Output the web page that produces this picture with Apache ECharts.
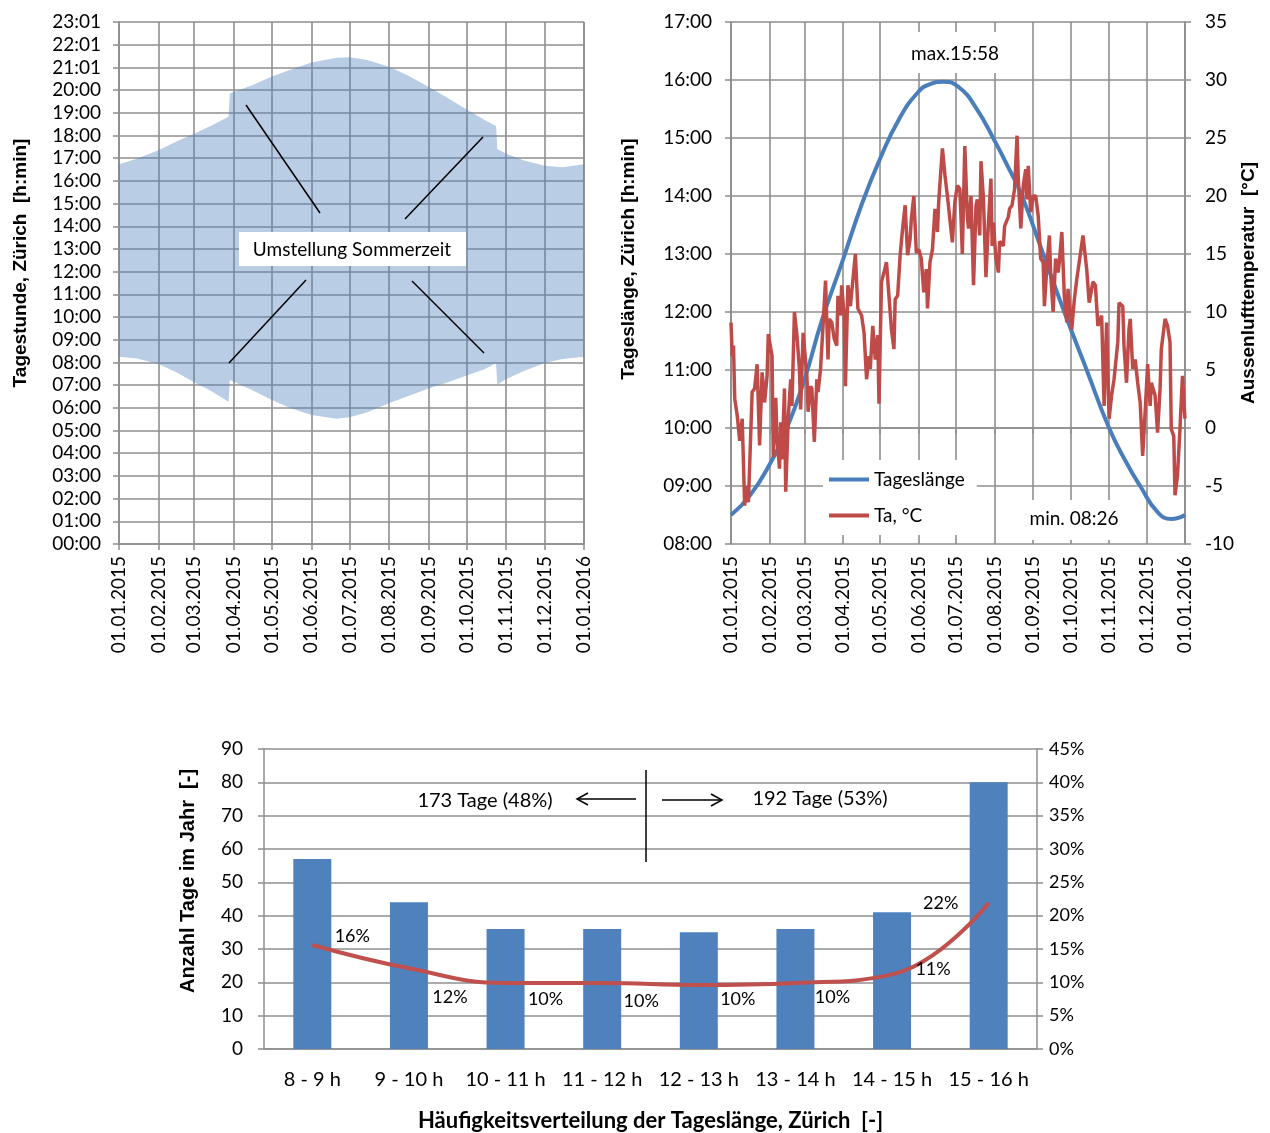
<!DOCTYPE html>
<html>
<head>
<meta charset="utf-8">
<script src="https://cdn.jsdelivr.net/npm/echarts@6/dist/echarts.min.js"></script>
<style>
html,body{margin:0;padding:0;background:#fff;}
#main{width:1270px;height:1133px;}
</style>
</head>
<body>
<div id="main"></div>
<script>
// ---------- Chart 1: Sunrise / sunset (local time incl. DST) ----------
const sunDates = ['2015-01-01','2015-01-15','2015-02-01','2015-02-15','2015-03-01','2015-03-15','2015-03-28','2015-03-29','2015-04-15','2015-05-01','2015-05-15','2015-06-01','2015-06-21','2015-07-01','2015-07-15','2015-08-01','2015-08-15','2015-09-01','2015-09-15','2015-10-01','2015-10-15','2015-10-24','2015-10-25','2015-11-01','2015-11-15','2015-12-01','2015-12-15','2016-01-01'];
const sunrise = [8.25, 8.17, 7.93, 7.57, 7.13, 6.72, 6.27, 7.23, 6.8, 6.35, 6.0, 5.68, 5.52, 5.58, 5.8, 6.2, 6.5, 6.85, 7.1, 7.42, 7.7, 7.98, 7.02, 7.27, 7.62, 7.97, 8.15, 8.25];
const sunset  = [16.73, 16.98, 17.35, 17.73, 18.08, 18.45, 18.82, 19.85, 20.2, 20.6, 20.88, 21.22, 21.43, 21.45, 21.33, 21.03, 20.67, 20.15, 19.68, 19.15, 18.68, 18.42, 17.4, 17.2, 16.9, 16.67, 16.6, 16.73];
const hourLabels1 = ['00:00','01:00','02:00','03:00','04:00','05:00','06:00','07:00','08:00','09:00','10:00','11:00','12:00','13:00','14:00','15:00','16:00','17:00','18:00','19:00','20:00','21:01','22:01','23:01'];

// ---------- Chart 2: day length and outdoor temperature ----------
const dayLenDays  = [0, 15, 31, 45, 59, 73, 90, 105, 120, 135, 150, 160, 171, 183, 197, 212, 224, 234, 251, 268, 286, 304, 318, 329, 343, 354, 365];
const dayLenHours = [8.5, 8.83, 9.37, 10.0, 10.83, 11.85, 12.9, 13.85, 14.65, 15.32, 15.78, 15.93, 15.97, 15.88, 15.52, 14.95, 14.45, 14.0, 13.0, 12.0, 11.0, 10.0, 9.4, 9.0, 8.55, 8.43, 8.5];
const tempDays = [0,1,2,3,5,7,9,11,12,14,17,19,21,23,25,27,29,30,33,34,36,37,39,40,41,43,44,46,48,49,51,53,55,56,58,61,62,64,65,67,69,70,72,74,76,78,79,81,83,85,86,88,89,91,92,
  94,96,100,102,105,107,109,111,112,114,116,118,119,121,123,125,127,129,131,132,134,136,138,140,142,144,145,147,149,151,153,155,157,158,160,162,164,166,167,170,172,174,176,178,180,182,
  184,185,186,188,190,191,193,195,197,198,200,201,203,205,207,209,210,211,213,215,216,219,220,223,224,226,228,230,231,233,235,237,238,239,241,243,245,247,249,251,252,254,256,257,259,261,263,264,266,268,270,271,274,276,278,280,
  283,286,288,291,293,295,298,300,302,304,306,308,311,312,315,316,318,320,321,323,325,327,329,331,333,335,337,338,341,343,345,346,349,351,353,354,356,357,359,361,363,365];
const tempValues = [9.1,6.2,7.1,2.5,1.1,-1.1,0.8,-6.7,-5.0,-6.4,3.1,3.4,5.5,-1.5,4.8,2.2,4.5,8.1,6.2,-2.5,2.6,-0.9,-3.5,0.5,-2.7,3.4,-5.5,0.8,4.2,1.9,10.0,8.0,5.1,1.6,8.2,4.5,1.4,3.6,3.4,-1.2,4.2,3.1,5.1,8.8,12.7,5.9,9.4,9.1,7.7,7.1,11.4,9.7,12.3,9.7,3.6,
  12.3,10.5,15.0,10.3,9.7,8.2,4.2,6.2,5.1,8.8,5.9,8.0,2.1,12.6,13.4,14.3,11.4,8.5,6.8,11.1,11.4,14.9,17.2,19.2,14.9,16.3,18.0,20.0,15.1,15.4,14.6,11.7,13.7,10.3,14.3,15.4,18.9,16.9,19.5,24.1,21.8,20.0,18.0,16.0,19.5,20.9,
  20.6,18.0,15.0,24.3,18.3,17.2,20.0,12.3,19.2,19.7,16.6,23.0,19.7,13.0,17.7,21.5,15.7,17.7,14.6,13.4,16.1,15.7,17.4,18.2,18.9,19.2,20.6,25.2,21.5,17.2,20.9,22.3,19.7,22.6,18.6,20.0,20.0,18.3,14.6,14.3,10.5,14.0,16.6,13.4,10.0,14.6,13.4,14.3,16.9,11.4,9.1,12.0,8.5,11.0,12.8,14.3,
  16.6,13.7,10.8,12.6,12.3,8.8,9.7,1.9,9.1,0.8,2.8,4.2,7.4,10.8,10.5,7.1,3.9,8.5,9.4,5.1,5.9,3.9,2.2,-2.4,1.4,5.5,1.9,3.9,2.8,-0.4,3.4,6.8,9.4,8.8,7.4,-0.1,-0.7,-5.8,-4.1,-0.1,4.5,0.8];
const hourLabels2 = ['08:00','09:00','10:00','11:00','12:00','13:00','14:00','15:00','16:00','17:00'];

// ---------- Chart 3: frequency distribution ----------
const classes = ['8 - 9 h','9 - 10 h','10 - 11 h','11 - 12 h','12 - 13 h','13 - 14 h','14 - 15 h','15 - 16 h'];
const daysPerClass = [57, 44, 36, 36, 35, 36, 41, 80];
const sharePercent = [15.6, 12.1, 9.9, 9.9, 9.6, 9.9, 11.2, 21.9];

const DAY = 86400000;
const base = new Date(2015, 0, 1).getTime();
const FONT = 'Lato';
const TFONT = 'Liberation Sans';
const GRID = '#8f8f8f';

const pad = n => (n < 10 ? '0' : '') + n;
const dateFmt = v => { const d = new Date(v); return pad(d.getDate()) + '.' + pad(d.getMonth() + 1) + '.' + d.getFullYear(); };

const bandBase = sunDates.map((d, i) => [d, sunrise[i]]);
const bandSpan = sunDates.map((d, i) => [d, +(sunset[i] - sunrise[i]).toFixed(3)]);
const dayLenData = dayLenDays.map((d, i) => [base + d * DAY, dayLenHours[i]]);
const tempData = tempDays.map((d, i) => [base + d * DAY, tempValues[i]]);

// label offsets for the percentage line (annotation placement)
const pctOffsets = [[40,-9],[41,29],[40,16],[39,18],[39,14],[37,14],[41,-5],[-48,0]];

function timeAxis(gi) {
  return {
    type: 'time', gridIndex: gi,
    min: base, max: base + 365 * DAY + 3600000,
    splitNumber: 12, minInterval: 28 * DAY, maxInterval: 31 * DAY,
    axisLine: { show: true, lineStyle: { color: GRID, width: 1.5 } },
    axisTick: { show: true, length: 6, lineStyle: { color: GRID, width: 1.5 } },
    axisLabel: { rotate: 90, formatter: dateFmt, fontFamily: FONT, fontSize: 19, color: '#000', margin: 12, hideOverlap: false, showMaxLabel: true },
    splitLine: { show: true, lineStyle: { color: GRID, width: 1.6 } },
    minorTick: { show: false }
  };
}
const titleStyle = (shift, size) => ({ fontFamily: TFONT, fontSize: size || 19, fontWeight: 'bold', color: '#000', padding: [0, 0, 0, shift] });

const option = {
  animation: false,
  backgroundColor: '#fff',
  textStyle: { fontFamily: FONT },
  grid: [
    { left: 119, top: 22, width: 465, height: 522, outerBoundsMode: 'none' },
    { left: 731, top: 22, width: 454, height: 522, outerBoundsMode: 'none' },
    { left: 264, top: 749, width: 773, height: 300, outerBoundsMode: 'none' }
  ],
  legend: {
    data: [{ name: 'Tageslänge', icon: 'rect' }, { name: 'Ta, °C', icon: 'rect' }],
    orient: 'vertical', left: 823, top: 460,
    backgroundColor: '#fff', padding: [10, 12, 10, 6],
    itemWidth: 40, itemHeight: 4, itemGap: 17,
    textStyle: { fontFamily: FONT, fontSize: 19, color: '#000' }
  },
  xAxis: [
    timeAxis(0),
    timeAxis(1),
    {
      type: 'category', gridIndex: 2, data: classes,
      axisLine: { lineStyle: { color: GRID, width: 1.5 } },
      axisTick: { length: 8, lineStyle: { color: GRID, width: 1.5 } },
      axisLabel: { interval: 0, fontFamily: FONT, fontSize: 20, color: '#000', margin: 21 },
      name: 'Häufigkeitsverteilung der Tageslänge, Zürich  [-]',
      nameLocation: 'middle', nameGap: 61,
      nameTextStyle: { fontFamily: FONT, fontSize: 22, fontWeight: 'bold', color: '#000' }
    }
  ],
  yAxis: [
    {
      type: 'value', gridIndex: 0, min: 0, max: 23, interval: 1,
      axisLine: { show: true, lineStyle: { color: GRID, width: 1.5 } },
      axisTick: { show: true, length: 6, lineStyle: { color: GRID, width: 1.5 } },
      axisLabel: { formatter: v => hourLabels1[Math.round(v)], fontFamily: FONT, fontSize: 19, color: '#000', margin: 18 },
      splitLine: { lineStyle: { color: GRID, width: 1.6 } },
      name: 'Tagestunde, Zürich  [h:min]', nameLocation: 'middle', nameGap: 89, nameTextStyle: titleStyle(40)
    },
    {
      type: 'value', gridIndex: 1, min: 8, max: 17, interval: 1,
      axisLine: { show: true, lineStyle: { color: GRID, width: 1.5 } },
      axisTick: { show: true, length: 6, lineStyle: { color: GRID, width: 1.5 } },
      axisLabel: { formatter: v => hourLabels2[Math.round(v - 8)], fontFamily: FONT, fontSize: 19, color: '#000', margin: 19 },
      splitLine: { lineStyle: { color: GRID, width: 1.6 } },
      name: 'Tageslänge, Zürich [h:min]', nameLocation: 'middle', nameGap: 93, nameTextStyle: titleStyle(48)
    },
    {
      type: 'value', gridIndex: 1, min: -10, max: 35, interval: 5, position: 'right',
      axisLine: { show: true, lineStyle: { color: GRID, width: 1.5 } },
      axisTick: { show: true, length: 6, lineStyle: { color: GRID, width: 1.5 } },
      axisLabel: { fontFamily: FONT, fontSize: 19, color: '#000', margin: 20 },
      splitLine: { show: false },
      name: 'Aussenlufttemperatur  [°C]', nameLocation: 'middle', nameGap: 54, nameRotate: 90, nameTextStyle: titleStyle(0)
    },
    {
      type: 'value', gridIndex: 2, min: 0, max: 90, interval: 10,
      axisLine: { show: true, lineStyle: { color: GRID, width: 1.5 } },
      axisTick: { show: true, length: 6, lineStyle: { color: GRID, width: 1.5 } },
      axisLabel: { fontFamily: FONT, fontSize: 19, color: '#000', margin: 21 },
      splitLine: { lineStyle: { color: GRID, width: 1.6 } },
      name: 'Anzahl Tage im Jahr  [-]', nameLocation: 'middle', nameGap: 66, nameTextStyle: titleStyle(36, 20)
    },
    {
      type: 'value', gridIndex: 2, min: 0, max: 45, interval: 5, position: 'right',
      axisLine: { show: true, lineStyle: { color: GRID, width: 1.5 } },
      axisTick: { show: true, length: 6, lineStyle: { color: GRID, width: 1.5 } },
      axisLabel: { formatter: '{value}%', fontFamily: FONT, fontSize: 18, color: '#000', margin: 12 },
      splitLine: { show: false }
    }
  ],
  series: [
    {
      name: 'sunrise', type: 'line', xAxisIndex: 0, yAxisIndex: 0, stack: 'band',
      data: bandBase, symbol: 'none', lineStyle: { opacity: 0 }, silent: true
    },
    {
      name: 'daylight', type: 'line', xAxisIndex: 0, yAxisIndex: 0, stack: 'band',
      data: bandSpan, symbol: 'none', lineStyle: { opacity: 0 },
      areaStyle: { color: 'rgba(79,129,189,0.4)', opacity: 1 }, silent: true
    },
    {
      name: 'Tageslänge', type: 'line', xAxisIndex: 1, yAxisIndex: 1,
      data: dayLenData, smooth: true, symbol: 'none',
      color: '#4A7EBB', lineStyle: { color: '#4A7EBB', width: 4 }
    },
    {
      name: 'Ta, °C', type: 'line', xAxisIndex: 1, yAxisIndex: 2,
      data: tempData, symbol: 'none',
      color: '#BE4B48', lineStyle: { color: '#BE4B48', width: 3.5 }
    },
    {
      name: 'Tage', type: 'bar', xAxisIndex: 2, yAxisIndex: 3,
      data: daysPerClass, barWidth: 38, itemStyle: { color: '#4F81BD' }
    },
    {
      name: 'Anteil', type: 'line', xAxisIndex: 2, yAxisIndex: 4, smooth: 0.45,
      symbol: 'circle', symbolSize: 1, itemStyle: { color: '#C0504D' },
      lineStyle: { color: '#C0504D', width: 4 },
      data: sharePercent.map((v, i) => ({
        value: v,
        label: { show: true, position: 'inside', offset: pctOffsets[i], formatter: Math.round(v) + '%', fontFamily: FONT, fontSize: 18, color: '#000' }
      }))
    }
  ],
  graphic: [
    // chart 1 annotation
    { type: 'line', shape: { x1: 246, y1: 105, x2: 320, y2: 213 }, style: { stroke: '#000', lineWidth: 1.5 }, z: 100 },
    { type: 'line', shape: { x1: 405, y1: 219, x2: 483, y2: 137 }, style: { stroke: '#000', lineWidth: 1.5 }, z: 100 },
    { type: 'line', shape: { x1: 229, y1: 363, x2: 306, y2: 280 }, style: { stroke: '#000', lineWidth: 1.5 }, z: 100 },
    { type: 'line', shape: { x1: 412, y1: 281, x2: 484, y2: 353 }, style: { stroke: '#000', lineWidth: 1.5 }, z: 100 },
    { type: 'rect', shape: { x: 239, y: 232, width: 227, height: 34 }, style: { fill: '#fff' }, z: 100 },
    { type: 'text', x: 352, y: 250, style: { text: 'Umstellung Sommerzeit', font: '19px Lato', fill: '#000', align: 'center', verticalAlign: 'middle' }, z: 101 },
    // chart 2 annotations
    { type: 'rect', shape: { x: 898, y: 32, width: 114, height: 41 }, style: { fill: '#fff' }, z: 100 },
    { type: 'text', x: 955, y: 54, style: { text: 'max.15:58', font: '19px Lato', fill: '#000', align: 'center', verticalAlign: 'middle' }, z: 101 },
    { type: 'rect', shape: { x: 1020, y: 500, width: 112, height: 40 }, style: { fill: '#fff' }, z: 100 },
    { type: 'text', x: 1074, y: 519, style: { text: 'min. 08:26', font: '19px Lato', fill: '#000', align: 'center', verticalAlign: 'middle' }, z: 101 },
    // chart 3 annotations
    { type: 'line', shape: { x1: 646, y1: 770, x2: 646, y2: 862 }, style: { stroke: '#000', lineWidth: 1.5 }, z: 100 },
    { type: 'line', shape: { x1: 636, y1: 799, x2: 577, y2: 799 }, style: { stroke: '#000', lineWidth: 1.5 }, z: 100 },
    { type: 'polyline', shape: { points: [[588, 793], [577, 799], [588, 805]] }, style: { stroke: '#000', lineWidth: 1.5, fill: null }, z: 100 },
    { type: 'line', shape: { x1: 662, y1: 800, x2: 722, y2: 800 }, style: { stroke: '#000', lineWidth: 1.5 }, z: 100 },
    { type: 'polyline', shape: { points: [[711, 794], [722, 800], [711, 806]] }, style: { stroke: '#000', lineWidth: 1.5, fill: null }, z: 100 },
    { type: 'text', x: 485, y: 801, style: { text: '173 Tage (48%)', font: '20px Lato', fill: '#000', align: 'center', verticalAlign: 'middle' }, z: 101 },
    { type: 'text', x: 820, y: 799, style: { text: '192 Tage (53%)', font: '20px Lato', fill: '#000', align: 'center', verticalAlign: 'middle' }, z: 101 }
  ]
};

const chart = echarts.init(document.getElementById('main'), null, { renderer: 'canvas' });
chart.setOption(option);
</script>
</body>
</html>
